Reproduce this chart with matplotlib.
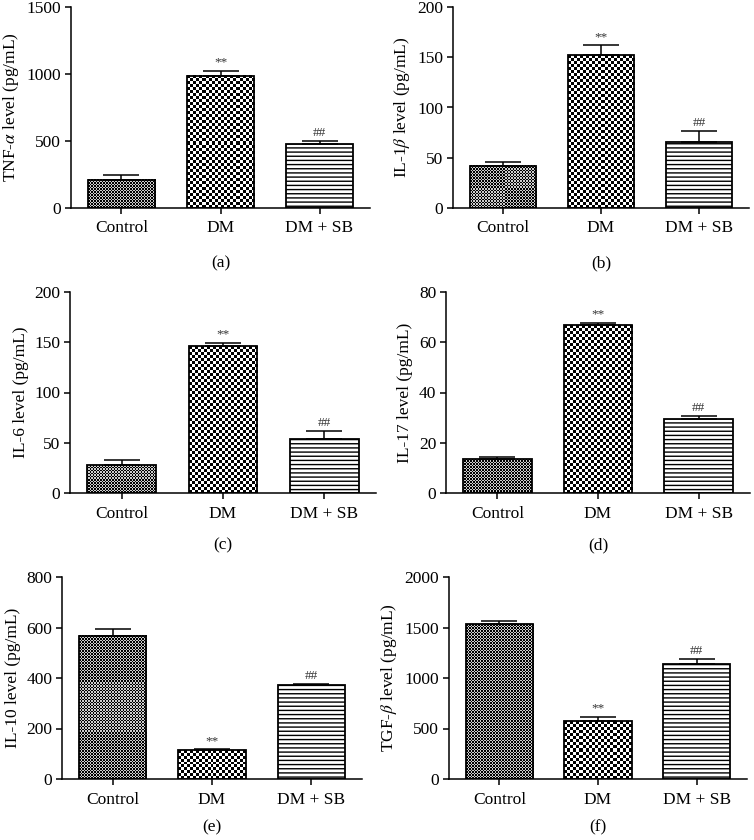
import numpy as np
import matplotlib
matplotlib.use("Agg")
import matplotlib.pyplot as plt

plt.rcParams['font.family'] = ['Liberation Serif', 'DejaVu Serif']
plt.rcParams['mathtext.fontset'] = 'stix'
plt.rcParams['font.size'] = 12.5

# data
groups = ['Control', 'DM', 'DM + SB']
tnf = [209, 987, 478]
tnf_err = [37, 38, 24]
il1b = [42, 152, 66]
il1b_err = [4, 10, 11]
il6 = [27.5, 146, 53.4]
il6_err = [5, 3.6, 8.3]
il17 = [13.5, 66.7, 29.6]
il17_err = [0.8, 1.1, 1.2]
il10 = [567, 113, 371]
il10_err = [26, 6, 6]
tgfb = [1533, 570, 1142]
tgfb_err = [30, 46, 43]

ylabels = [r'TNF-$\alpha$ level (pg/mL)', r'IL-1$\beta$ level (pg/mL)',
           'IL-6 level (pg/mL)', 'IL-17 level (pg/mL)',
           'IL-10 level (pg/mL)', r'TGF-$\beta$ level (pg/mL)']
ymaxes = [1500, 200, 200, 80, 800, 2000]
ysteps = [500, 50, 50, 20, 200, 500]
panel_tags = ['(a)', '(b)', '(c)', '(d)', '(e)', '(f)']
marks = [['', '**', '##']] * 6

W, H = 754, 840
# axes boxes in pixels: left, right, top, bottom
boxes = [(71, 370, 7, 208), (453, 749, 7, 208),
         (70, 376, 292, 493), (446, 750, 292, 493),
         (62, 362, 577, 779), (449, 747, 577, 779)]
tag_off = [55, 55, 52, 52, 48, 48]

fig = plt.figure(figsize=(W / 100, H / 100), dpi=100)


def checker(ax, bar, cell, light):
    bb = bar.get_window_extent()
    nx = max(1, int(round(bb.width / cell)))
    ny = max(1, int(round(bb.height / cell)))
    arr = (np.indices((ny, nx)).sum(axis=0) % 2) * light
    x0 = bar.get_x()
    ax.imshow(arr, cmap='gray', vmin=0, vmax=1,
              extent=(x0, x0 + bar.get_width(), 0, bar.get_height()),
              interpolation='nearest', aspect='auto', zorder=1)


datasets = [(tnf, tnf_err), (il1b, il1b_err), (il6, il6_err),
            (il17, il17_err), (il10, il10_err), (tgfb, tgfb_err)]

for i, (vals, errs) in enumerate(datasets):
    L, R, T, B = boxes[i]
    ax = fig.add_axes([L / W, 1 - B / H, (R - L) / W, (B - T) / H])
    x = np.arange(len(groups))
    ax.set_xlim(-0.51, 2.51)
    ax.set_ylim(0, ymaxes[i])
    bars = ax.bar(x, vals, width=0.68, facecolor='white', edgecolor='black',
                  linewidth=1.3, zorder=2)
    bars[0].set_facecolor('none')
    bars[1].set_facecolor('none')
    bars[2].set_hatch('----')
    checker(ax, bars[0], 1.5, 0.8)
    checker(ax, bars[1], 3.0, 1.0)
    ax.set_xlim(-0.51, 2.51)
    ax.set_ylim(0, ymaxes[i])
    ax.errorbar(x, vals, yerr=[np.zeros(3), errs], fmt='none', ecolor='black',
                elinewidth=1.1, capsize=13, capthick=1.1, zorder=3)
    for j in range(3):
        if marks[i][j]:
            ax.annotate(marks[i][j], (x[j], vals[j] + errs[j]), xytext=(0, 1.5),
                        textcoords='offset points', ha='center', va='bottom',
                        fontsize=9.5, color='#333333')
    ax.set_xticks(x)
    ax.set_xticklabels(groups)
    ax.set_yticks(np.arange(0, ymaxes[i] + 1, ysteps[i]))
    ax.spines['top'].set_visible(False)
    ax.spines['right'].set_visible(False)
    ax.spines['left'].set_linewidth(1.1)
    ax.spines['bottom'].set_linewidth(1.1)
    ax.tick_params(axis='both', direction='out', length=4, width=1.1, labelsize=12.5)
    ax.tick_params(axis='x', pad=5)
    ax.tick_params(axis='y', pad=3)
    ax.set_ylabel(ylabels[i], fontsize=12.5, labelpad=4)
    ax.annotate(panel_tags[i], (0.5, 0), xycoords='axes fraction',
                xytext=(0, -tag_off[i] * 0.72), textcoords='offset points',
                ha='center', va='center', fontsize=12.5)

fig.savefig('out.png', dpi=100)
